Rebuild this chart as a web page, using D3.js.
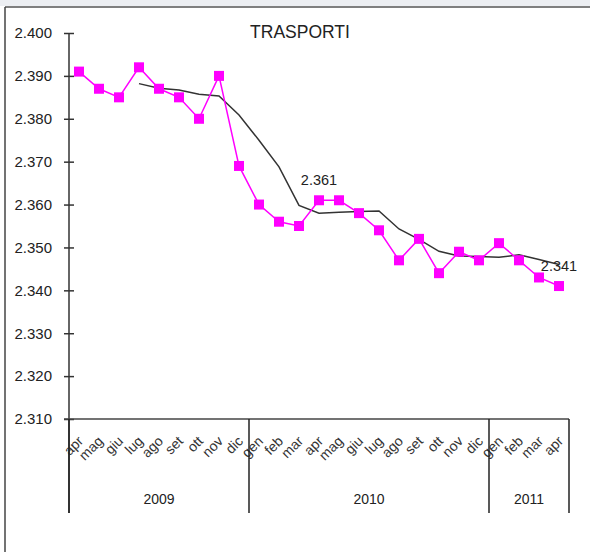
<!DOCTYPE html>
<html lang="it">
<head>
<meta charset="UTF-8">
<title>Trasporti</title>
<style>
    body { margin: 0; background: #fff; }
    svg text { font-family: "Liberation Sans", Arial, sans-serif; fill: #222; }
</style>
</head>
<body>
<svg id="chart" width="590" height="552"></svg>
<script src="https://d3js.org/d3.v7.min.js"></script>
<script>
// mesi (apr 2009 - apr 2011)
const months = ["apr","mag","giu","lug","ago","set","ott","nov","dic",
                "gen","feb","mar","apr","mag","giu","lug","ago","set","ott","nov","dic",
                "gen","feb","mar","apr"];
const years = [
    { label: "2009", from: 0, to: 8 },
    { label: "2010", from: 9, to: 20 },
    { label: "2011", from: 21, to: 24 }
];
// indice mensile
const values = [2.391, 2.387, 2.385, 2.392, 2.387, 2.385, 2.380, 2.390, 2.369,
                2.360, 2.356, 2.355, 2.361, 2.361, 2.358, 2.354, 2.347, 2.352, 2.344, 2.349, 2.347,
                2.351, 2.347, 2.343, 2.341];
// media mobile (linea nera)
const trend = [null, null, null, 2.3882, 2.3871, 2.3867, 2.3857, 2.3853, 2.3809,
               2.3750, 2.3688, 2.3598, 2.3580, 2.3582, 2.3584, 2.3585, 2.3543, 2.3519, 2.3491, 2.3480, 2.3479,
               2.3477, 2.3483, 2.3472, 2.3460];
const yTicks = [2.310, 2.320, 2.330, 2.340, 2.350, 2.360, 2.370, 2.380, 2.390, 2.400];
const labelled = [12, 24];

const svg = d3.select("#chart");

// cornice
svg.append("rect").attr("x", 0).attr("y", 0).attr("width", 590).attr("height", 6).attr("fill", "#eceef2");
svg.append("line").attr("x1", 5).attr("x2", 590).attr("y1", 7).attr("y2", 7).attr("stroke", "#555").attr("stroke-width", 1.5);
svg.append("line").attr("x1", 5).attr("x2", 5).attr("y1", 7).attr("y2", 552).attr("stroke", "#444").attr("stroke-width", 1.5);

const x = d3.scaleBand().domain(d3.range(months.length)).range([69, 569]);
const y = d3.scaleLinear().domain([2.310, 2.400]).range([419, 33]);
const cx = i => x(i) + x.bandwidth() / 2;

// asse y
const yAxis = svg.append("g")
    .attr("transform", "translate(69,0)")
    .call(d3.axisLeft(y).tickValues(yTicks).tickFormat(d3.format(".3f")).tickSize(5).tickPadding(12));
yAxis.select(".domain").attr("stroke", "#333").attr("stroke-width", 1.5).attr("d", "M0,33V513");
yAxis.selectAll(".tick line").attr("x1", -5).attr("x2", 5).attr("stroke", "#333").attr("stroke-width", 1.5);
yAxis.selectAll(".tick text").attr("font-size", 15).style("fill", "#222");

// asse x
svg.append("line").attr("x1", 64).attr("x2", 569).attr("y1", y(2.310)).attr("y2", y(2.310))
    .attr("stroke", "#444").attr("stroke-width", 1.5);
const xAxis = svg.append("g")
    .attr("transform", "translate(0,419)")
    .call(d3.axisBottom(x).tickFormat(i => months[i]).tickSize(0));
xAxis.select(".domain").remove();
xAxis.selectAll(".tick text")
    .attr("font-size", 14)
    .attr("text-anchor", "end")
    .attr("dy", 0)
    .attr("y", 0)
    .attr("transform", "translate(5,23) rotate(-45)")
    .style("fill", "#333");

// separatori anni
const seps = [0, ...years.map(d => d.to + 1)];
svg.selectAll(".sep").data(seps).join("line")
    .attr("x1", i => x(i) === undefined ? 569 : x(i))
    .attr("x2", i => x(i) === undefined ? 569 : x(i))
    .attr("y1", 419).attr("y2", 513)
    .attr("stroke", "#222").attr("stroke-width", 1.5);

svg.selectAll(".year").data(years).join("text")
    .attr("x", d => (x(d.from) + x(d.to) + x.bandwidth()) / 2)
    .attr("y", 504)
    .attr("text-anchor", "middle")
    .attr("font-size", 14)
    .text(d => d.label);

// titolo
svg.append("text").attr("x", 300).attr("y", 38).attr("text-anchor", "middle")
    .attr("font-size", 17.5).text("TRASPORTI");

// linea media
const trendLine = d3.line().defined(d => d != null).x((d, i) => cx(i)).y(d => y(d));
svg.append("path").datum(trend).attr("d", trendLine)
    .attr("fill", "none").attr("stroke", "#333").attr("stroke-width", 1.5);

// serie
const line = d3.line().x((d, i) => cx(i)).y(d => y(d));
svg.append("path").datum(values).attr("d", line)
    .attr("fill", "none").attr("stroke", "#ff00ff").attr("stroke-width", 1.5);
svg.selectAll(".pt").data(values).join("rect")
    .attr("x", (d, i) => cx(i) - 5).attr("y", d => y(d) - 5)
    .attr("width", 10).attr("height", 10)
    .attr("fill", "#ff00ff");

svg.selectAll(".lbl").data(labelled).join("text")
    .attr("x", i => cx(i)).attr("y", i => y(values[i]) - 15)
    .attr("text-anchor", "middle").attr("font-size", 14.5)
    .text(i => d3.format(".3f")(values[i]));
</script>
</body>
</html>
